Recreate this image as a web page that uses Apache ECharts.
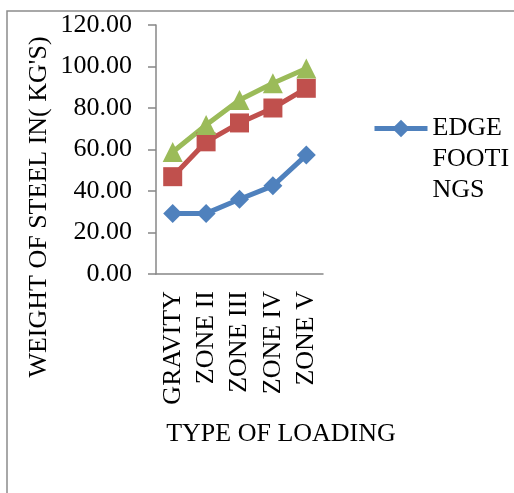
<!DOCTYPE html>
<html>
<head>
<meta charset="utf-8">
<script src="https://cdn.jsdelivr.net/npm/echarts@6/dist/echarts.min.js"></script>
<style>
  html, body { margin: 0; padding: 0; background: #ffffff; }
  #chart { width: 514px; height: 493px; }
</style>
</head>
<body>
<div id="chart"></div>
<script>
// Loading cases on the x axis
const categories = ['GRAVITY', 'ZONE II', 'ZONE III', 'ZONE IV', 'ZONE V'];

// Weight of steel (kg) per loading case
const edgeFootings = [29.2, 29.2, 36.0, 42.5, 57.3];
const seriesTwo = [46.9, 63.7, 72.8, 80.0, 89.5];
const seriesThree = [58.8, 71.8, 83.9, 91.9, 99.0];

// Y axis ticks
const yMin = 0, yMax = 120, yStep = 20;

// Legend label, broken over three lines
const legendLines = ['EDGE', 'FOOTI', 'NGS'];

const FONT = "'Liberation Serif', 'Times New Roman', serif";
const FONT_SIZE = 26;
const AXIS_GRAY = '#878787';

const chart = echarts.init(document.getElementById('chart'), null, { renderer: 'canvas' });

chart.setOption({
  backgroundColor: '#ffffff',
  animation: false,
  textStyle: { fontFamily: FONT, color: '#000000' },
  graphic: [
    {
      type: 'rect',
      z: -10,
      shape: { x: 7, y: 11, width: 700, height: 700 },
      style: { fill: 'none', stroke: '#8c8c8c', lineWidth: 1.5 }
    },
    {
      type: 'text',
      x: 39, y: 207,
      rotation: Math.PI / 2,
      style: {
        text: "WEIGHT OF STEEL IN( KG'S)",
        font: FONT_SIZE + 'px ' + FONT,
        fill: '#000000',
        align: 'center',
        verticalAlign: 'middle'
      }
    },
    {
      type: 'text',
      x: 281, y: 434,
      style: {
        text: 'TYPE OF LOADING',
        font: FONT_SIZE + 'px ' + FONT,
        fill: '#000000',
        align: 'center',
        verticalAlign: 'middle'
      }
    }
  ],
  grid: { left: 156, right: 191, top: 25, bottom: 219, containLabel: false },
  legend: {
    data: ['EDGE FOOTINGS'],
    left: 372,
    top: 51,
    padding: 0,
    itemWidth: 53,
    itemHeight: 22,
    lineStyle: { width: 5 },
    // two blank lines first so the icon sits level with the first text line
    formatter: () => '\n\n' + legendLines.join('\n'),
    textStyle: {
      fontFamily: FONT,
      fontSize: FONT_SIZE,
      lineHeight: 31,
      color: '#000000'
    }
  },
  xAxis: {
    type: 'category',
    data: categories,
    boundaryGap: true,
    axisLine: { lineStyle: { color: AXIS_GRAY, width: 1.5 } },
    axisTick: { show: false },
    axisLabel: {
      rotate: 90,
      margin: 17,
      fontFamily: FONT,
      fontSize: FONT_SIZE,
      color: '#000000',
      interval: 0
    },
    splitLine: { show: false }
  },
  yAxis: {
    type: 'value',
    min: yMin,
    max: yMax,
    interval: yStep,
    axisLine: { show: true, lineStyle: { color: AXIS_GRAY, width: 1.5 } },
    axisTick: { show: true, length: 8, lineStyle: { color: AXIS_GRAY, width: 1.5 } },
    axisLabel: {
      margin: 24,
      fontFamily: FONT,
      fontSize: FONT_SIZE,
      color: '#000000',
      formatter: v => v.toFixed(2)
    },
    splitLine: { show: false }
  },
  series: [
    {
      name: 'EDGE FOOTINGS',
      type: 'line',
      data: edgeFootings,
      symbol: 'diamond',
      symbolSize: 19,
      color: '#4F81BD',
      lineStyle: { width: 5, color: '#4F81BD' },
      itemStyle: { color: '#4F81BD' }
    },
    {
      name: 'Series 2',
      type: 'line',
      data: seriesTwo,
      symbol: 'rect',
      symbolSize: 19,
      color: '#C0504D',
      lineStyle: { width: 5, color: '#C0504D' },
      itemStyle: { color: '#C0504D' }
    },
    {
      name: 'Series 3',
      type: 'line',
      data: seriesThree,
      symbol: 'triangle',
      symbolSize: 20,
      color: '#9BBB59',
      lineStyle: { width: 5, color: '#9BBB59' },
      itemStyle: { color: '#9BBB59' }
    }
  ]
});
</script>
</body>
</html>
